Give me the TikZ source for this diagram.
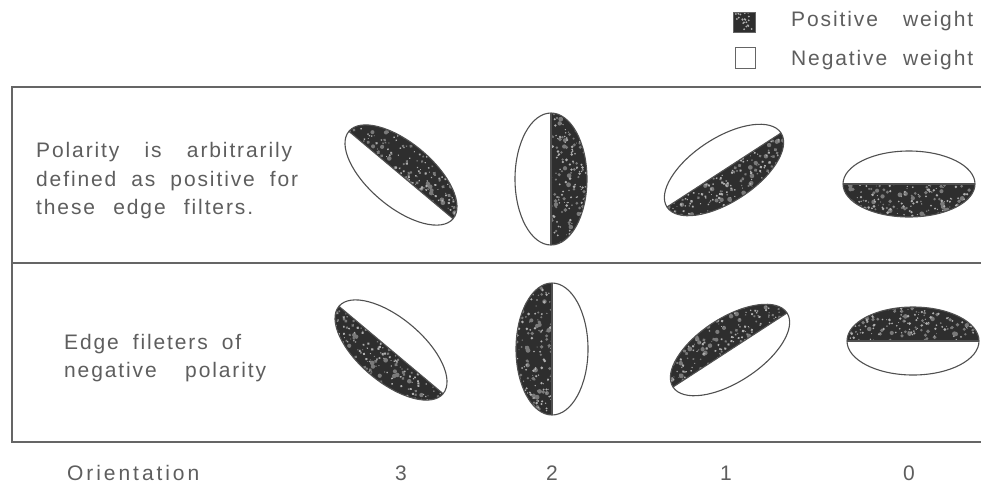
\documentclass[tikz,border=0pt]{standalone}
\usepackage{fontspec}
\setmainfont{Liberation Sans}[LetterSpace=9]
\newfontfamily\widefont{Liberation Sans}[LetterSpace=14]
\definecolor{txt}{HTML}{5E5E5E}
\definecolor{rule}{HTML}{656565}
\definecolor{outl}{HTML}{505050}
\definecolor{dark}{HTML}{2E2E2E}
\definecolor{speck}{HTML}{B0B0B0}
\definecolor{speckb}{HTML}{7A7A7A}
\tikzset{
  lbl/.style={inner sep=0pt, text=txt, font=\fontsize{21}{25}\selectfont},
  boxline/.style={draw=rule, line width=1.4pt},
  ell/.style={draw=outl, line width=1.1pt},
}
% #1 cx, #2 cy, #3 angle, #4 a, #5 b, #6 side (1 = local upper half shaded, -1 = lower)
\newcommand\drawfilter[6]{%
  \begin{scope}[shift={(#1,-#2)}, rotate=#3]
    \begin{scope}
      \clip (#4,0) arc[start angle=0, end angle={180*#6}, x radius=#4, y radius=#5] -- cycle;
      \fill[dark] (-#4,-#5) rectangle (#4,#5);
      \foreach \k in {1,...,70}{%
        \pgfmathsetmacro\rx{rand*#4}%
        \pgfmathsetmacro\ry{#6*rnd*#5}%
        \pgfmathsetmacro\rr{0.8+rnd*1.6}%
        \fill[speckb] (\rx,\ry) circle (\rr);
      }
      \foreach \k in {1,...,110}{%
        \pgfmathsetmacro\rx{rand*#4}%
        \pgfmathsetmacro\ry{#6*rnd*#5}%
        \pgfmathsetmacro\rr{0.4+rnd*1.1}%
        \fill[speck] (\rx,\ry) circle (\rr);
      }
    \end{scope}
    \draw[ell] (0,0) ellipse[x radius=#4, y radius=#5];
    \draw[ell] (-#4,0) -- (#4,0);
  \end{scope}}
\begin{document}
\begin{tikzpicture}[x=1pt,y=1pt]
\pgfmathsetseed{7}
\useasboundingbox (0,0) rectangle (981,-483);
\fill[white] (0,0) rectangle (981,-483);
% frame
\draw[boxline] (981,-87) -- (12,-87) -- (12,-442) -- (981,-442);
\draw[boxline] (12,-263) -- (981,-263);
% legend
\begin{scope}
  \clip (733,-12) rectangle (755,-32);
  \fill[dark] (733,-12) rectangle (755,-32);
  \foreach \k in {1,...,22}{%
    \pgfmathsetmacro\rx{744+rand*11}%
    \pgfmathsetmacro\ry{-22+rand*10}%
    \fill[speck] (\rx,\ry) circle (1);
  }
\end{scope}
\draw[rule, line width=0.8pt] (733,-12) rectangle (755,-32);
\draw[rule, line width=1pt] (735,-47) rectangle (755,-68);
\node[lbl, anchor=base west] (lpos) at (791,-26) {\makebox[182pt][s]{Positive weight}};
\node[lbl, anchor=base west] (lneg) at (791,-65) {\makebox[182pt][s]{Negative weight}};
% row texts
\node[lbl, anchor=base west] (t1) at (36,-157) {\makebox[256pt][s]{Polarity is arbitrarily}};
\node[lbl, anchor=base west] (t2) at (36,-186) {\makebox[262pt][s]{defined as positive for}};
\node[lbl, anchor=base west] (t3) at (36,-214) {\makebox[217pt][s]{these edge filters.}};
\node[lbl, anchor=base west] (t4) at (64,-349) {\makebox[177pt][s]{Edge fileters of}};
\node[lbl, anchor=base west] (t5) at (64,-377) {\makebox[202pt][s]{negative polarity}};
\node[lbl, anchor=base west, font=\fontsize{21}{25}\widefont] (t6) at (67,-480) {Orientation};
\node[lbl, anchor=base] (o3) at (401,-480) {3};
\node[lbl, anchor=base] (o2) at (552,-480) {2};
\node[lbl, anchor=base] (o1) at (726,-480) {1};
\node[lbl, anchor=base] (o0) at (909,-480) {0};
% top row
\drawfilter{401}{175}{-40}{68}{32}{1}
\drawfilter{551}{179}{90}{66}{36}{-1}
\drawfilter{724}{170}{33}{68}{32}{-1}
\drawfilter{909}{184}{0}{66}{33}{-1}
% bottom row
\drawfilter{391}{350}{-40}{68}{32}{-1}
\drawfilter{552}{349}{90}{66}{36}{1}
\drawfilter{730}{350}{33}{68}{32}{1}
\drawfilter{913}{341}{0}{66}{34}{1}
\end{tikzpicture}
\end{document}
